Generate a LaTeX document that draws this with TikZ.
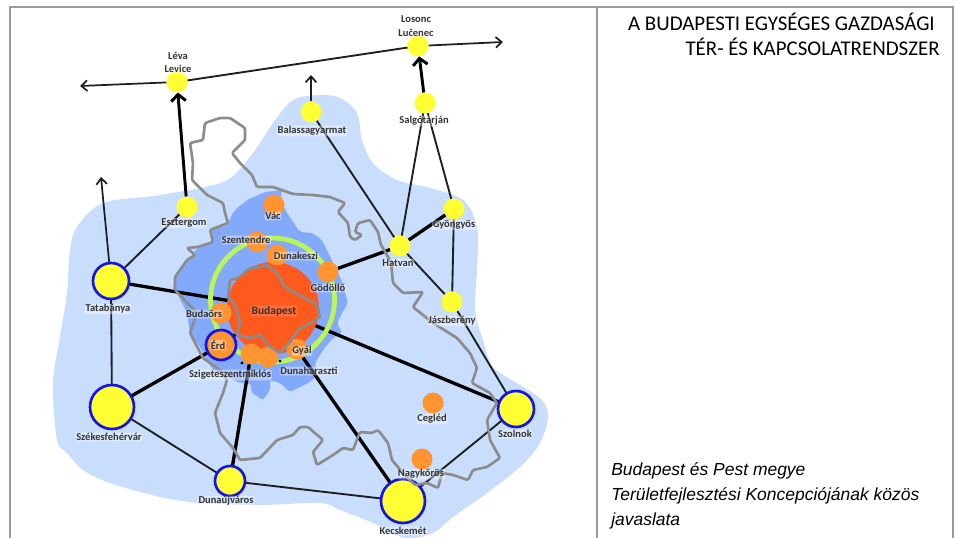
\documentclass[tikz,border=0pt]{standalone}
\usepackage{fontspec}
\setmainfont{Carlito}
\newfontfamily\arialf{Liberation Sans}
\usetikzlibrary{arrows.meta}
\pgfdeclarelayer{regions}
\pgfdeclarelayer{edges}
\pgfsetlayers{regions,edges,main}
\definecolor{lightreg}{HTML}{C9DDFD}
\definecolor{midreg}{HTML}{82A9FA}
\definecolor{borderg}{HTML}{8C8C8C}
\definecolor{framec}{HTML}{999999}
\definecolor{cyel}{HTML}{FFFF33}
\definecolor{cblue}{HTML}{1414E6}
\definecolor{corg}{HTML}{FF9430}
\definecolor{cred}{HTML}{FF5A1E}
\definecolor{cring}{HTML}{B9F55A}
\definecolor{edgec}{HTML}{1E1E1E}
\tikzset{
  x=0.75pt,y=-0.75pt,
  town/.style={circle,inner sep=0pt,outer sep=0pt,fill=cyel,minimum size=21*0.75pt},
  hub/.style={circle,inner sep=0pt,outer sep=0pt,fill=cyel,draw=cblue,line width=2pt,minimum size=#1*0.75pt},
  agglo/.style={circle,inner sep=0pt,outer sep=0pt,fill=corg,minimum size=21*0.75pt},
  lab/.style={font=\bfseries\fontsize{7.9}{9}\selectfont,text=black!80,inner sep=0.5pt,fill=white,fill opacity=.4,text opacity=1,rounded corners=1pt},
  thin link/.style={draw=edgec,line width=1.4pt},
  thick link/.style={draw=black,line width=2.5pt},
  arrow link/.style={draw=edgec,line width=1.3pt,-{Straight Barb[length=4.5pt,width=8pt]}},
  thick arrow/.style={draw=black,line width=2.2pt,-{Straight Barb[length=5pt,width=11pt]}},
  gline/.style={draw=borderg,line width=2pt,line join=round},
  framel/.style={draw=framec,line width=1.6pt},
}
\begin{document}
\begin{tikzpicture}
\useasboundingbox (0,0) rectangle (955,538);
% frame
\coordinate (fTL) at (10,7); \coordinate (fTR) at (953,7);
\coordinate (fBL) at (10,538); \coordinate (fBR) at (953,538);
\coordinate (fMT) at (597,7); \coordinate (fMB) at (597,538);
\draw[framel] (fBL)--(fTL)--(fTR)--(fBR);
\draw[framel] (fMT)--(fMB);
% regions
\begin{pgfonlayer}{regions}
\fill[lightreg] plot[smooth cycle,tension=.55] coordinates {
(70,250)(77,227)(103,203)(160,195)(223,182)(250,157)(273,123)(293,100)(320,95)(340,98)(357,113)(362,140)(373,163)(397,180)(430,188)(463,200)(477,227)(477,270)(475,310)(483,340)(493,367)(520,385)(542,400)(548,417)(540,443)(520,467)(487,493)(453,517)(433,533)(405,538)(373,523)(340,510)(320,503)(260,505)(200,503)(160,497)(110,483)(83,470)(67,453)(57,440)(53,383)(60,337)(67,293)};
\fill[midreg,rounded corners=1.5pt] (265,192)--(247,200)--(235,210)--(230,218)--(228,225)--(210,230)--(212,243)--(197,248)--(193,255)--(185,262)--(175,277)--(173,290)--(177,293)--(187,313)--(190,333)--(200,347)--(207,360)--(213,370)--(227,377)--(240,383)--(250,383)--(252,393)--(263,400)--(270,390)--(270,380)--(280,383)--(290,392)--(300,387)--(310,382)--(317,375)--(315,363)--(323,350)--(333,338)--(342,333)--(337,323)--(342,313)--(348,303)--(345,293)--(345,290)--(340,277)--(322,240)--(312,233)--(300,232)--(293,222)--(287,213)--(280,200)--(282,190)--cycle;
\end{pgfonlayer}
% hubs and towns
\node[circle,inner sep=0pt,outer sep=0pt,draw=cring,line width=3.6pt,minimum size=124*0.75pt] (ring) at (272.5,300) {};
\node[circle,inner sep=0pt,outer sep=0pt,fill=cred,minimum size=92*0.75pt] (bud) at (273,308) {};
\node[town] (lev) at (177,82) {};
\node[town] (luc) at (418,46) {};
\node[town] (sal) at (425,103) {};
\node[town] (bal) at (311,112) {};
\node[town] (esz) at (187,207) {};
\node[town] (gyo) at (454,209) {};
\node[town] (hat) at (400,246) {};
\node[town] (jas) at (452,302) {};
\node[hub=36] (tat) at (111,281) {};
\node[hub=44] (sze) at (112,407) {};
\node[hub=30] (dun) at (230,481) {};
\node[hub=44] (kec) at (403,501) {};
\node[hub=36] (szo) at (516,409) {};
\node[agglo] (vac) at (274,205) {};
\node[agglo] (szt) at (257,242) {};
\node[agglo] (dke) at (277,255) {};
\node[agglo] (god) at (328,272) {};
\node[agglo] (bao) at (221,313) {};
\node[agglo] (ssz) at (251,354) {};
\node[agglo] (dha) at (268,357) {};
\node[agglo] (gya) at (297,349) {};
\node[agglo] (ceg) at (433,403) {};
\node[agglo] (nag) at (422,459) {};
\node[circle,inner sep=0pt,outer sep=0pt,fill=corg,draw=cblue,line width=2pt,minimum size=30*0.75pt] (erd) at (221,345) {};
% free ends of arrows
\coordinate (wEnd) at (80,86);
\coordinate (eEnd) at (503,42);
\coordinate (tatUp) at (101,177);
\coordinate (balUp) at (311,75);
% county outline
\draw[gline,rounded corners=1pt] (232,153)--(240,163)--(252,175)--(257,187)--(273,187)--(293,194)--(313,195)--(330,197)--(345,203)--(338,212)--(348,223)--(350,237)--(355,240)--(362,235)--(355,232)--(358,223)--(370,220)--(378,232)--(381,245)--(391,262)--(393,283)--(403,293)--(423,292)--(413,307)--(433,323)--(457,338)--(470,353)--(477,368)--(472,383)--(490,393)--(497,403)--(487,420)--(490,440)--(500,458)--(487,467)--(473,470)--(468,480)--(453,475)--(442,473)--(438,488)--(427,483)--(415,485)--(403,473)--(392,460)--(388,443)--(378,430)--(372,433)--(360,432)--(353,450)--(343,448)--(333,455)--(317,465)--(313,452)--(323,440)--(308,427)--(300,427)--(293,435)--(277,440)--(260,458)--(240,460)--(233,448)--(220,433)--(215,413)--(223,393)--(227,380)--(220,370)--(203,358)--(190,333)--(197,313)--(175,290)--(175,277)--(187,260)--(195,255)--(187,248)--(198,247)--(213,242)--(210,230)--(228,223)--(225,213)--(223,203)--(207,195)--(192,180)--(193,163)--(190,143)--(203,140)--(205,123)--(220,118)--(230,118)--(245,128)--(245,140)--cycle;
\draw[gline,rounded corners=1pt] (228,297)--(230,280)--(238,278)--(250,268)--(260,267)--(267,265)--(277,273)--(285,287)--(303,297)--(317,305)--(320,317)--(310,323)--(298,330)--(290,342)--(280,353)--(270,347)--(260,335)--(250,338)--(237,335)--(240,322)--(235,305)--cycle;
% connectors
\begin{pgfonlayer}{edges}
\draw[arrow link] (lev)--(wEnd);
\draw[thin link] (lev)--(luc);
\draw[arrow link] (luc)--(eEnd);
\draw[thick arrow] (esz)--(lev);
\draw[thick arrow] (sal)--(luc);
\draw[arrow link] (tat)--(tatUp);
\draw[arrow link] (bal)--(balUp);
\draw[thin link] (hat)--(sal);
\draw[thin link] (gyo)--(sal);
\draw[thin link] (hat)--(bal);
\draw[thick link] (hat)--(gyo);
\draw[thin link] (gyo)--(jas);
\draw[thin link] (hat)--(jas);
\draw[thin link] (jas)--(szo);
\draw[thick link] (szo)--(bud);
\draw[thin link] (kec)--(szo);
\draw[thick link] (kec)--(gya);
\draw[thin link] (kec)--(dun);
\draw[thin link] (dun)--(sze);
\draw[thick link] (dun)--(ssz);
\draw[thick link] (sze)--(erd);
\draw[thin link] (sze)--(tat);
\draw[thick link] (tat)--(bud);
\draw[thin link] (tat)--(esz);
\draw[thick link] (hat)--(god);
\draw[thick link] (erd)--(bud);
\end{pgfonlayer}
\fill[black] (242,363) circle (1.6);
\fill[black] (280,361) circle (1.6);
% labels
\node[lab] (l1) at (178,56) {Léva};
\node[lab] (l2) at (178,69) {Levice};
\node[lab] (l3) at (416,19) {Losonc};
\node[lab] (l4) at (416,33) {Lučenec};
\node[lab] (l5) at (424,121) {Salgótarján};
\node[lab] (l6) at (312,131) {Balassagyarmat};
\node[lab] (l7) at (184,223) {Esztergom};
\node[lab] (l8) at (454,225) {Gyöngyös};
\node[lab] (l9) at (398,263) {Hatvan};
\node[lab] (l10) at (452,321) {Jászberény};
\node[lab] (l11) at (108,309) {Tatabánya};
\node[lab] (l12) at (109,437) {Székesfehérvár};
\node[lab] (l13) at (226,501) {Dunaújváros};
\node[lab] (l14) at (403,531) {Kecskemét};
\node[lab] (l15) at (515,434) {Szolnok};
\node[lab] (l16) at (432,419) {Cegléd};
\node[lab] (l17) at (421,474) {Nagykőrös};
\node[lab] (l18) at (218,345) {Érd};
\node[lab] (l19) at (204,314) {Budaörs};
\node[lab,fill opacity=.12,font=\bfseries\fontsize{8.6}{10}\selectfont] (l20) at (274,311) {Budapest};
\node[lab] (l21) at (230,375) {Szigeteszentmiklós};
\node[lab] (l22) at (309,371) {Dunaharaszti};
\node[lab] (l23) at (302,351) {Gyál};
\node[lab] (l24) at (328,288) {Gödöllő};
\node[lab] (l25) at (296,256) {Dunakeszi};
\node[lab] (l26) at (246,240) {Szentendre};
\node[lab] (l27) at (273,216) {Vác};
% side panel
\node[anchor=east,font=\fontsize{15.7}{18}\selectfont,text=black,inner sep=0pt] (t1) at (935,22) {A BUDAPESTI EGYSÉGES GAZDASÁGI};
\node[anchor=east,font=\fontsize{15.7}{18}\selectfont,text=black,inner sep=0pt] (t2) at (940,47) {TÉR- ÉS KAPCSOLATRENDSZER};
\node[anchor=west,font=\arialf\itshape\fontsize{13.1}{15}\selectfont,inner sep=0pt] (c1) at (611,471) {Budapest és Pest megye};
\node[anchor=west,font=\arialf\itshape\fontsize{13.1}{15}\selectfont,inner sep=0pt] (c2) at (611,496) {Területfejlesztési Koncepciójának közös};
\node[anchor=west,font=\arialf\itshape\fontsize{13.1}{15}\selectfont,inner sep=0pt] (c3) at (611,521) {javaslata};
\end{tikzpicture}
\end{document}
